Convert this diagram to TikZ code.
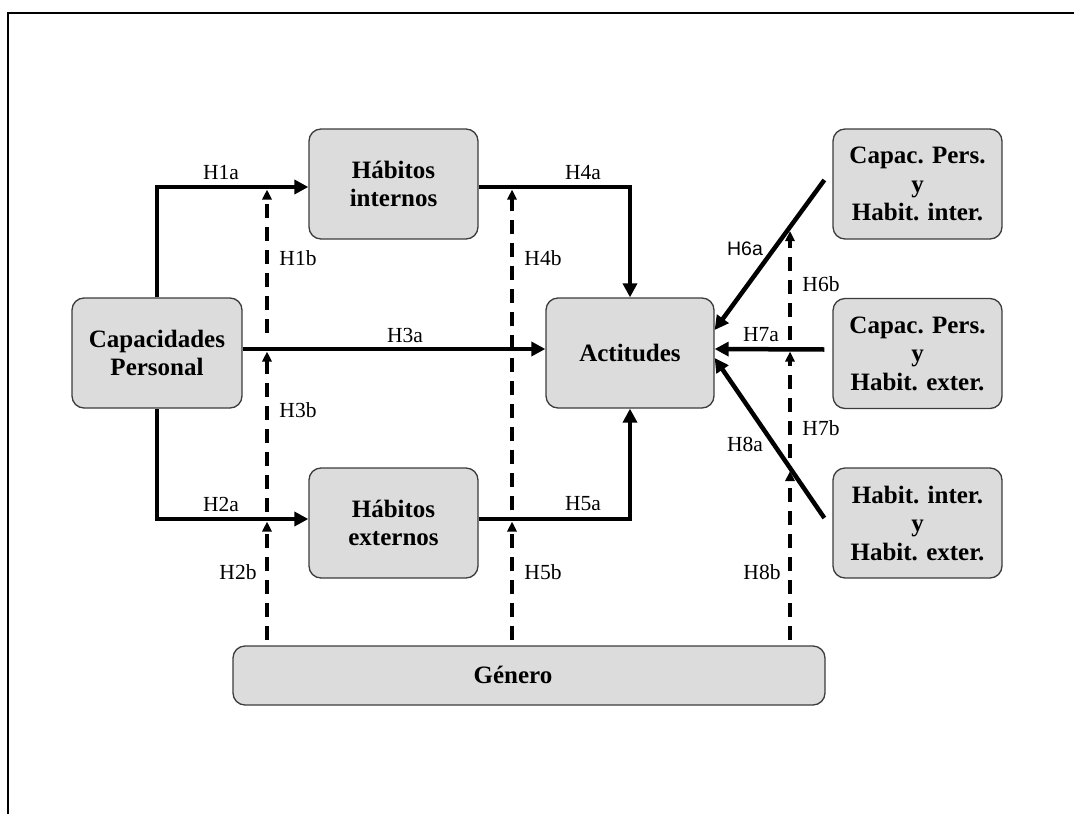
\documentclass[tikz,border=0pt]{standalone}
\usepackage{fontspec}
\setmainfont{Liberation Serif}
\newfontfamily\labelsans{Liberation Sans}
\usetikzlibrary{arrows.meta,calc}
\definecolor{boxgray}{RGB}{220,220,220}
\definecolor{boxedge}{RGB}{60,60,60}
\begin{document}
\begin{tikzpicture}[x=1pt,y=-1pt,
  box/.style={draw=boxedge, line width=1.3pt, fill=boxgray, rounded corners=12pt,
    align=center, inner sep=0pt, font=\fontsize{25}{28.5}\selectfont\bfseries},
  boxtext/.style={inner sep=0pt, font=\fontsize{25}{28.5}\selectfont\bfseries},
  sarr/.style={line width=4.5pt, -{Triangle[length=14pt,width=14pt]}},
  darr/.style={line width=4pt, dash pattern=on 14pt off 9pt,
    -{Triangle[length=10pt,width=9pt]}},
  lab/.style={inner sep=0pt, font=\fontsize{21.5}{24}\selectfont},
  labsf/.style={inner sep=0pt, font=\fontsize{19.5}{24}\labelsans}]
\useasboundingbox (0,0) rectangle (1074,814);

% page frame
\draw[line width=2pt] (8,814) -- (8,13) -- (1074,13);

% constructs
\node[box, minimum width=170, minimum height=110] (cp) at (157,353) {Capacidades\\Personal};
\node[box, minimum width=169, minimum height=110] (hi) at (393.5,184) {Hábitos\\internos};
\node[box, minimum width=169, minimum height=110] (he) at (393.5,523) {Hábitos\\externos};
\node[box, minimum width=168, minimum height=110] (ac) at (630,353) {Actitudes};
\node[box, minimum width=169, minimum height=110] (r1) at (917.5,184) {Capac. Pers.\\y\\Habit. inter.};
\node[box, minimum width=169, minimum height=110] (r2) at (917.5,353.5) {Capac. Pers.\\y\\Habit. exter.};
\node[box, minimum width=169, minimum height=110] (r3) at (917.5,523) {Habit. inter.\\y\\Habit. exter.};
\node[box, minimum width=592, minimum height=59] (g) at (529,675.5) {};
\node[boxtext] (gt) at (513,675) {Género};

% direct effects
\draw[sarr] (cp.north) |- ($(hi.west)+(0,3)$);
\draw[sarr] (cp.south) |- ($(he.west)+(0,-4)$);
\draw[sarr] ($(cp.east)+(0,-4)$) -- ($(ac.west)+(0,-4)$);
\draw[sarr] ($(hi.east)+(0,3)$) -| (ac.north);
\draw[sarr] ($(he.east)+(0,-4)$) -| (ac.south);
\draw[sarr] ($(r1.west)+(-8,-4)$) -- ($(ac.east)+(0,-23)$);
\draw[sarr] ($(r2.west)+(-8,-4)$) -- ($(ac.east)+(0,-4)$);
\draw[sarr] ($(r3.west)+(-8,-5)$) -- ($(ac.east)+(0,5)$);

% moderation by gender
\coordinate (m1s) at (267,333);  \coordinate (m1e) at (267,189.5);
\coordinate (m3s) at (267,512);  \coordinate (m3e) at (267,351.5);
\coordinate (m2s) at (267,640);  \coordinate (m2e) at (267,521.5);
\coordinate (m4s) at (512,510);  \coordinate (m4e) at (512,189.5);
\coordinate (m5s) at (512,640);  \coordinate (m5e) at (512,521.5);
\coordinate (m6s) at (790,340);  \coordinate (m6e) at (790,231);
\coordinate (m7s) at (790,458);  \coordinate (m7e) at (790,351.5);
\coordinate (m8s) at (790,640);  \coordinate (m8e) at (790,471);
\foreach \i in {1,...,8} {\draw[darr] (m\i s) -- (m\i e);}

% path labels
\node[lab] (l1a) at (221,173) {H1a};
\node[lab] (l2a) at (221,504) {H2a};
\node[lab] (l3a) at (405,335) {H3a};
\node[lab] (l4a) at (583,173) {H4a};
\node[lab] (l5a) at (583,504) {H5a};
\node[labsf] (l6a) at (745,249) {H6a};
\node[lab] (l7a) at (761,335) {H7a};
\node[lab] (l8a) at (745,444) {H8a};
\node[lab] (l1b) at (298,258) {H1b};
\node[lab] (l3b) at (298,410) {H3b};
\node[lab] (l2b) at (238,572) {H2b};
\node[lab] (l4b) at (543,258) {H4b};
\node[lab] (l5b) at (543,572) {H5b};
\node[lab] (l6b) at (821,284) {H6b};
\node[lab] (l7b) at (821,428) {H7b};
\node[lab] (l8b) at (762,572) {H8b};
\end{tikzpicture}
\end{document}
